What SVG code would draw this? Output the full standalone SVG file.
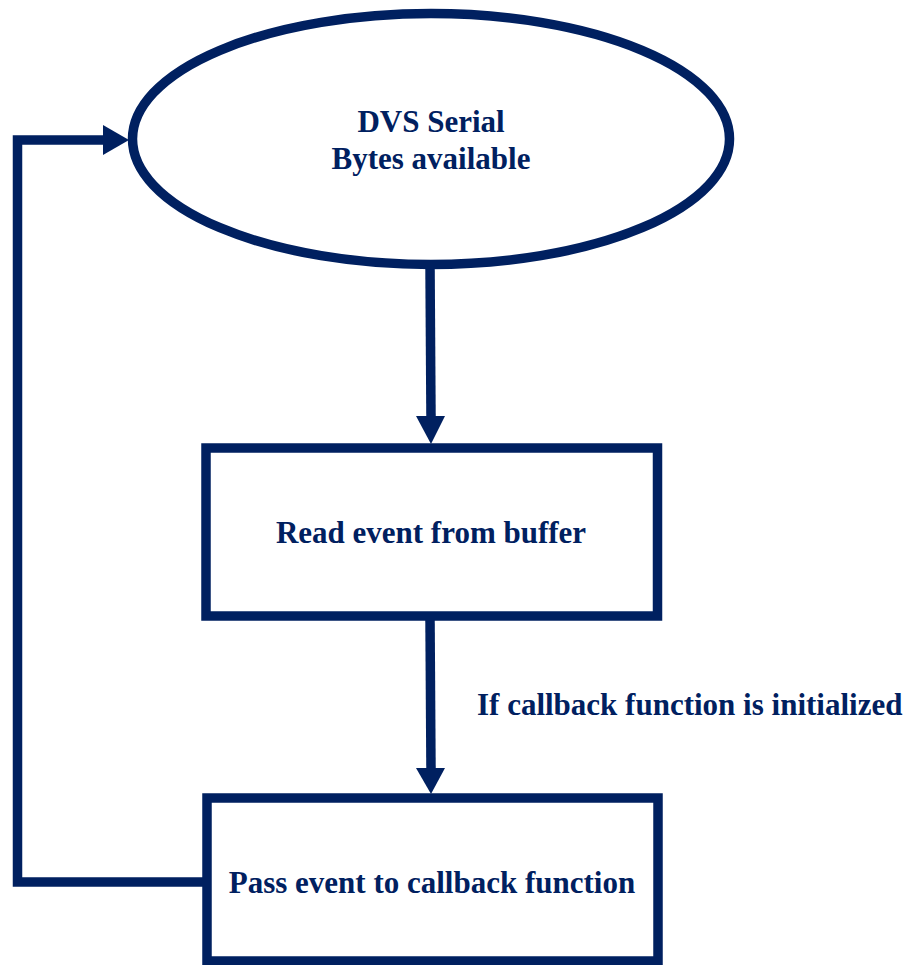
<svg xmlns="http://www.w3.org/2000/svg" width="905" height="965" viewBox="0 0 905 965">
  <style>
    .shape { fill: #ffffff; stroke: #002060; stroke-width: 9.5; }
    .wire { fill: none; stroke: #002060; stroke-width: 9.5; stroke-linejoin: miter; stroke-linecap: butt; }
    .head { fill: #002060; stroke: none; }
    .t { font-family: 'Liberation Serif', 'Times New Roman', Times, serif; font-weight: 700; font-size: 31px; fill: #002060; }
    .mid { text-anchor: middle; }
  </style>
  <rect width="905" height="965" fill="#ffffff"/>

  <g id="connectors">
    <!-- ellipse to read box -->
    <line class="wire" x1="430" y1="265" x2="431" y2="418"/>
    <polygon class="head" points="416,416 445,416 431,444"/>
    <!-- read box to pass box -->
    <line class="wire" x1="430" y1="618" x2="431" y2="770"/>
    <polygon class="head" points="416,768 445,768 431,794"/>
    <!-- loop back to the ellipse -->
    <polyline class="wire" points="207,882 17.5,882 17.5,140 105,140"/>
    <polygon class="head" points="103,125 129,140 103,155"/>
  </g>

  <g id="node-dvs-serial">
    <ellipse class="shape" cx="431" cy="139" rx="298.5" ry="125.5"/>
    <text class="t mid" x="431" y="132" font-family="Liberation Serif, serif">DVS Serial</text>
    <text class="t mid" x="431" y="169" font-family="Liberation Serif, serif">Bytes available</text>
  </g>

  <g id="node-read-event">
    <rect class="shape" x="206" y="448" width="451.5" height="168"/>
    <text class="t mid" x="431" y="543" font-family="Liberation Serif, serif">Read event from buffer</text>
  </g>

  <g id="label-callback-init">
    <text class="t" x="477" y="715" font-family="Liberation Serif, serif">If callback function is initialized</text>
  </g>

  <g id="node-pass-event">
    <rect class="shape" x="207" y="798" width="451" height="163"/>
    <text class="t mid" x="432" y="893" font-family="Liberation Serif, serif">Pass event to callback function</text>
  </g>
</svg>
